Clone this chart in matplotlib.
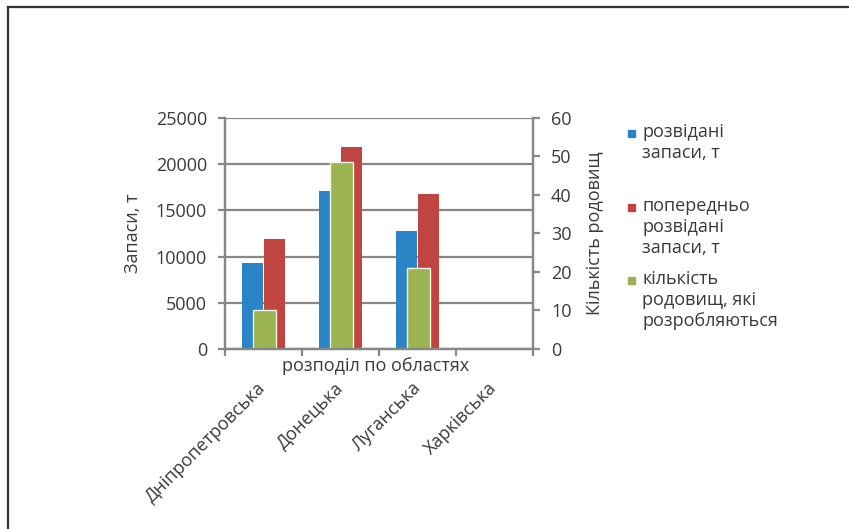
import numpy as np
import matplotlib
matplotlib.use("Agg")
from matplotlib import pyplot as plt
from matplotlib import transforms as mtransforms
from matplotlib.lines import Line2D
from matplotlib.patches import Rectangle

plt.rcParams["font.family"] = ["Open Sans", "DejaVu Sans"]

regions = ["Дніпропетровська", "Донецька", "Луганська", "Харківська"]
explored = [9300, 17100, 12800, np.nan]
preliminary = [11900, 21900, 16800, np.nan]
fields_in_use = [10, 48.5, 21, np.nan]

series_names = ["розвідані\nзапаси, т",
                "попередньо\nрозвідані\nзапаси, т",
                "кількість\nродовищ, які\nрозробляються"]
series_colors = ["#2a84c6", "#c0443f", "#9bb350"]

W, H = 849, 529
TEXT = "#3a3a3a"
GRID = "#878787"
FS = 13

fig = plt.figure(figsize=(W / 100, H / 100), dpi=100)
ax = fig.add_axes([225 / W, 1 - 349 / H, 308 / W, 231 / H])
ax2 = ax.twinx()

x = np.arange(len(regions))
ax.bar(x - 0.145, explored, 0.27, color=series_colors[0], linewidth=0, zorder=2)
ax.bar(x + 0.145, preliminary, 0.27, color=series_colors[1], linewidth=0, zorder=2)
ax2.bar(x + 0.01, fields_in_use, 0.30, color=series_colors[2],
        edgecolor="#f4f6e6", linewidth=1.0, zorder=2)

ax.set_xlim(-0.5, len(regions) - 0.5)
ax.set_ylim(0, 25000)
ax.set_yticks(np.arange(0, 25001, 5000))
ax2.set_ylim(0, 60)
ax2.set_yticks(np.arange(0, 61, 10))

# Gridlines sit behind the bars of the primary axis.
ax.set_axisbelow(True)
ax.yaxis.grid(True, color=GRID, linewidth=1.6)

for a in (ax, ax2):
    for side, spine in a.spines.items():
        spine.set_color(GRID)
        spine.set_linewidth(1.6)
    a.spines["top"].set_visible(False)

ax.tick_params(axis="y", direction="out", length=5, width=1.6, color=GRID,
               labelsize=FS, labelcolor=TEXT, pad=8)
ax2.tick_params(axis="y", direction="out", length=5, width=1.6, color=GRID,
                labelsize=FS, labelcolor=TEXT, pad=8)

# Category ticks sit at the group boundaries; labels at the group centres.
ax.set_xticks(x)
ax.set_xticklabels(regions, rotation=45, ha="right", va="top",
                   rotation_mode="anchor", fontsize=FS, color=TEXT)
ax.set_xticks(np.arange(-0.5, len(regions)), minor=True)
ax.tick_params(axis="x", which="major", length=0, pad=20)
ax.tick_params(axis="x", which="minor", direction="out", length=5,
               width=1.6, color=GRID)
shift = mtransforms.ScaledTranslation(-0.065, -0.02, fig.dpi_scale_trans)
for label in ax.get_xticklabels():
    label.set_transform(label.get_transform() + shift)

ax.set_xlabel("розподіл по областях", fontsize=FS, color=TEXT)
ax.xaxis.set_label_coords(0.49, -0.035)
ax.set_ylabel("Запаси, т", fontsize=FS, color=TEXT, labelpad=10)
ax2.set_ylabel("Кількість родовищ", fontsize=FS, color=TEXT, labelpad=10)

# Legend drawn by hand so each marker lines up with the first text line.
entry_tops = [133, 207, 280]
for name, color, yc in zip(series_names, series_colors, entry_tops):
    fig.add_artist(Rectangle((628 / W, 1 - (yc + 3.5) / H), 7 / W, 7 / H,
                             transform=fig.transFigure, color=color))
    fig.text(642 / W, 1 - (yc - 10) / H, name, fontsize=FS, color=TEXT,
             va="top", ha="left", linespacing=1.2)

# Frame edges along the top and left of the image.
fig.add_artist(Line2D([7.5 / W, 1], [1 - 6.5 / H, 1 - 6.5 / H],
                      transform=fig.transFigure, color="#333333", linewidth=1.6))
fig.add_artist(Line2D([7.5 / W, 7.5 / W], [0, 1 - 6.5 / H],
                      transform=fig.transFigure, color="#333333", linewidth=1.6))

fig.savefig("out.png", dpi=100)
